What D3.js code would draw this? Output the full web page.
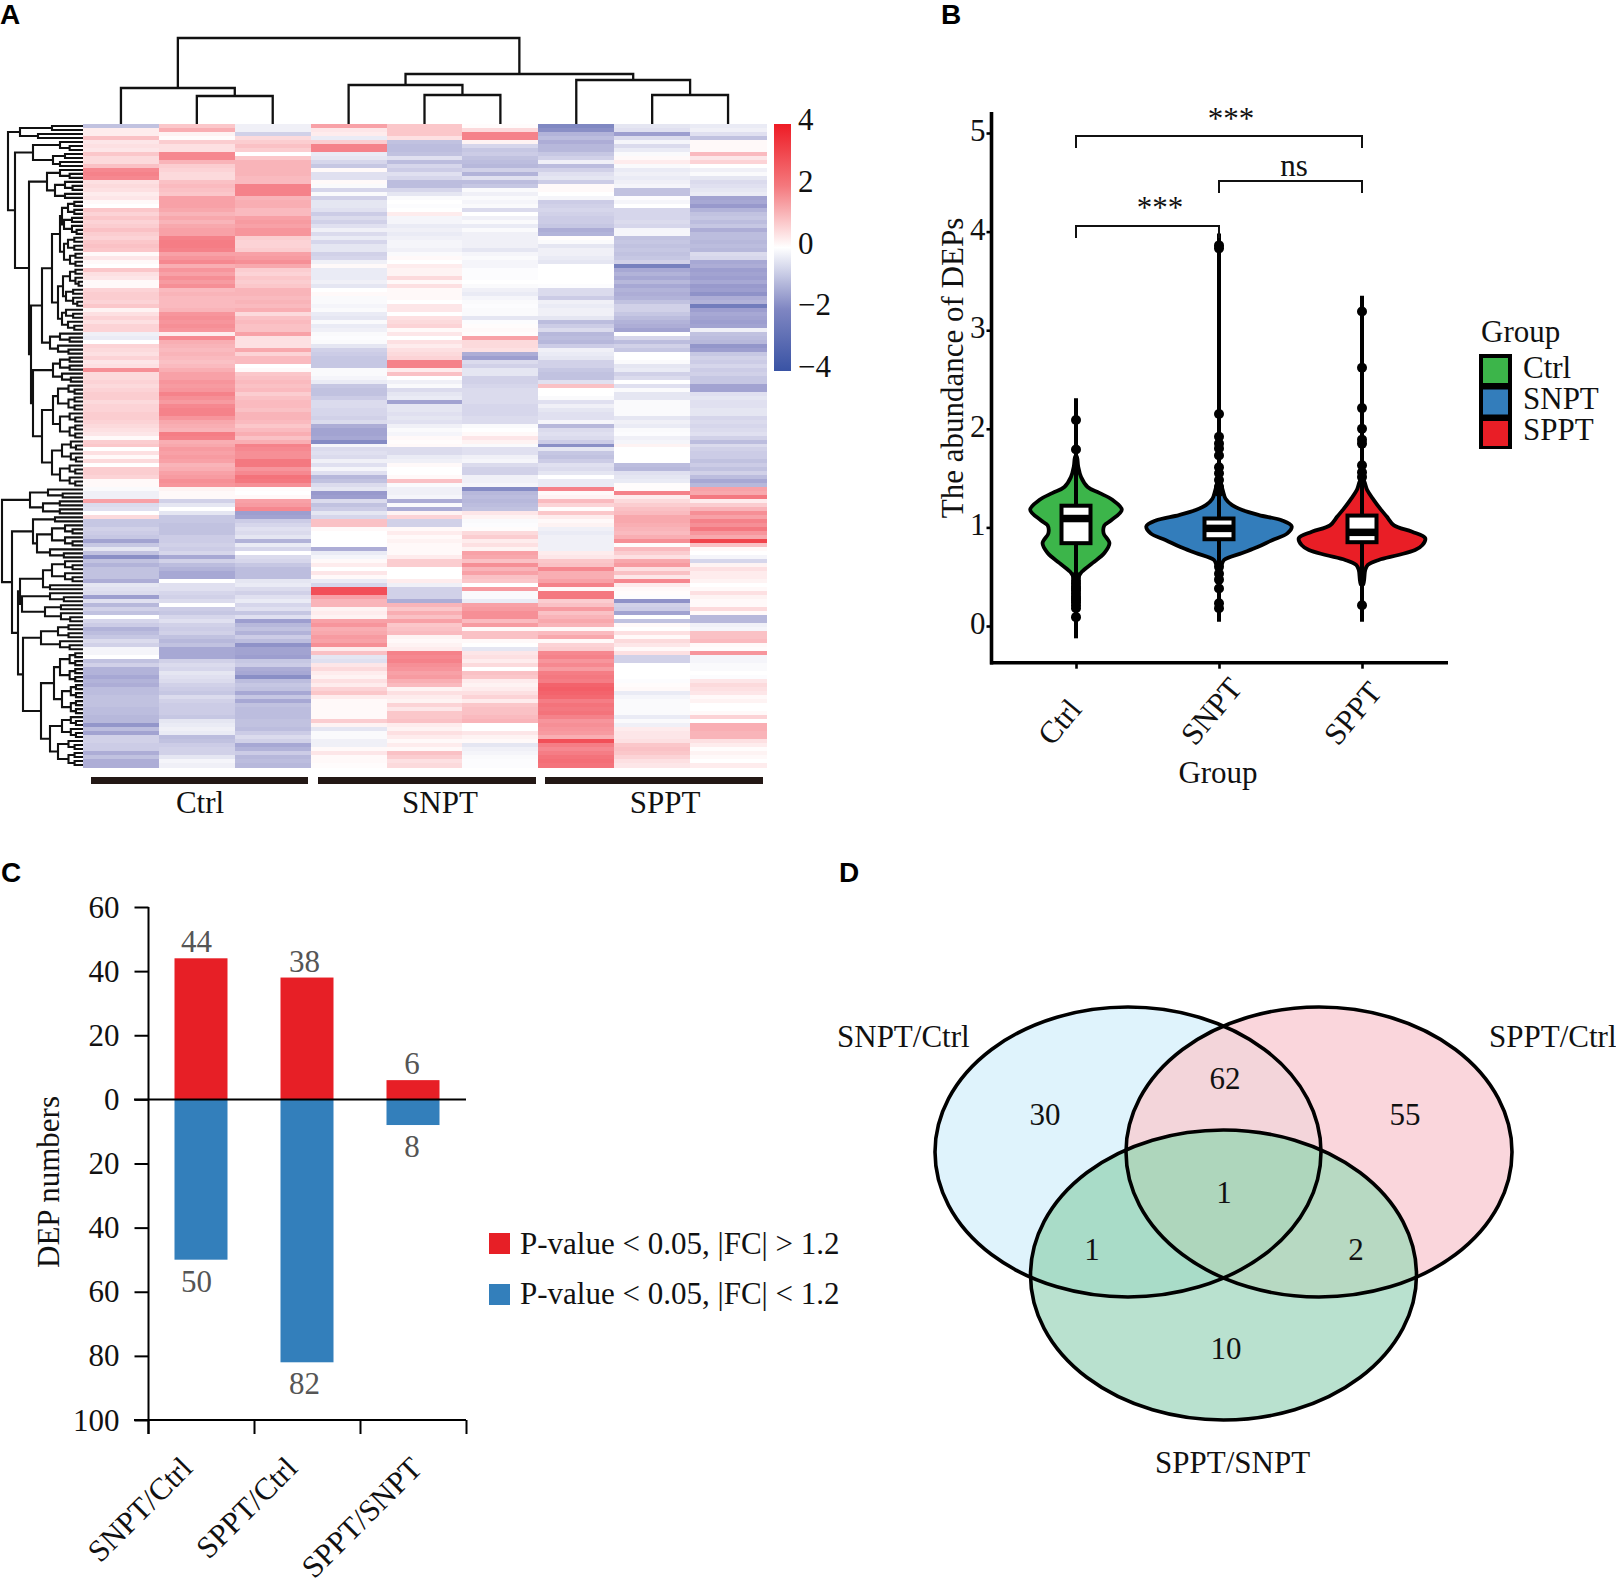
<!DOCTYPE html>
<html><head><meta charset="utf-8">
<script src="https://cdnjs.cloudflare.com/ajax/libs/d3/7.8.5/d3.min.js"></script>
<style>html,body{margin:0;padding:0;background:#fff}svg{display:block}text{font-family:"Liberation Serif",serif;fill:#111}</style>
</head><body><svg id="c" width="1616" height="1584"></svg>
<script>
// ---------- Panel A data: one array per sample, one value per protein row ----------
const sampleGroups = ["Ctrl","SNPT","SPPT"];
const heatCtrl1 = [-1.2,.3,.3,1,.4,.5,.4,.9,.6,.6,1,1.9,2,1.9,.5,.6,.5,.3,.4,.1,0,.9,.7,.9,.7,.8,1,.8,.7,.9,1,.9,.1,.4,.1,0,.9,.5,.4,.1,.1,.7,.8,.8,.7,.9,.2,.5,.7,.5,.7,.7,-.3,-.4,0,.7,.6,.5,.7,.4,.5,1.8,.6,.6,.7,.6,.7,.8,.8,.6,.7,.7,.8,.8,.7,.6,.5,.4,.1,
.8,.9,0,.5,.1,.6,0,.8,.8,.7,.1,.1,-.1,-.3,-.3,1.5,-.7,-.6,0,.6,-1.1,-1.1,-.9,-1,-1.1,-1.8,-1.1,-.5,-1.2,-2.3,-1.2,-1.5,-1.2,-1.2,-1.2,-1.6,-.5,-.6,-.7,-1.9,-.6,-1.4,-.9,-1.2,0,-.8,-1,-1.5,-1.3,-1.1,-.7,-.9,-.2,-.2,0,-1.2,-.9,-1.5,-1.5,-1.7,-1.5,-1.6,-1.3,-1.3,-1.2,-1.2,-1.2,-1.3,-1.3,-1.4,-1.4,-2.1,-1.3,-1.8,-.9,-.9,-1,-1,-1.6,-1.2,-1.6,-1.6];
const heatCtrl2 = [.9,1.3,.2,.05,.8,.5,.5,1.9,1.9,1.2,.8,.7,.6,.6,1,1.1,1,.9,1.5,1.5,1.5,1.4,1.2,1.4,1.2,1.4,1.5,1.5,2,2.1,2.1,2,1.5,1.7,1.9,1.3,1.7,1.5,1.8,1.6,1.8,1.1,1.2,1.1,1.1,1.1,1.2,1.7,1.8,1.7,1.8,1.7,.3,1.9,1.3,1.2,1.1,1.2,1.1,1,1.1,1.3,1.5,1.5,1.7,1.6,1.7,2,1.8,1.6,1.9,2,2,1.7,1.4,1.3,1.2,2.1,2,
1.3,1.4,1.6,1.5,1.6,1.5,1.2,1.3,1.5,1.6,1.8,1.7,.2,.1,.1,-.9,-.5,0,-.5,-1.1,-1.1,-1.2,-1.2,-1.2,-1,-1,-.9,-1,-.8,-1.7,-.9,-1.3,-1.5,-1.7,-1.7,0,-.6,-.6,-.8,-.9,-.7,0,-1,-1.1,-.8,-.6,-.9,-1,-.9,-1.2,-1.4,-1.2,-1.7,-1.7,-1.7,-.9,-.7,-.8,-.5,-.6,-.7,-.9,-1,-1.1,-.7,-.9,-1,-1,-1,-1.1,-.5,-.4,-.3,-.4,-1.3,-1.2,-1,-.9,-.9,-.5,-.2,-.3];
const heatCtrl3 = [-.3,-.3,-.9,.6,.8,1,.8,0,.9,1.2,1.2,1.2,1.2,1.1,1.1,2,2,2,1.2,1.3,1.3,1.1,1.1,1.5,1.6,1.5,1.7,1.7,.8,.7,.7,.8,1.5,1.6,1.8,1.4,.8,.7,.9,.8,.9,1.2,1.2,1.1,1.2,1.1,1.3,.6,1,1.1,1,1,1.5,.5,.5,.5,1.4,.7,1.1,1.1,0,.1,.9,1,1.1,1,1.1,.8,1,1.1,1.1,1,1.2,1.2,1.1,.9,1.1,1.3,1,
1.3,2,1.9,1.8,1.8,2.2,2.2,1.7,1.9,2.3,2.2,1.8,.05,0,.1,1.5,1.6,1.9,-1.9,-1.8,-1,-.8,-.6,-.7,-.5,-1.5,-.4,-.8,0,-.7,-.8,-1.1,-1.3,-1.3,-1.3,-.5,-.4,-.7,-.9,-.6,-.4,-.8,-.6,-1.1,-.6,-1.9,-1.4,-1.2,-1.5,-1,-1.3,-2.2,-1.8,-1.8,-1.9,-1.1,-1,-1.6,-1.7,-2.3,-1.3,-1.1,-1.2,-1.7,-1.1,-1.7,-1.2,-1.3,-1.3,-1.3,-1.2,-1.2,-1.3,-1,-.7,-.9,-1.7,-1.5,-1,-1.4,-1.3,-1.4];
const heatSnpt1 = [1.5,.4,.3,-.4,.8,2,2,-.4,-.5,-.8,-1.1,.1,-.6,-.6,.1,-.1,-.8,-.1,-.9,-.5,-.5,-.6,-1,-.7,-.9,-.6,-.3,-.7,-.4,-.8,-.5,-.5,-.9,-.8,-.3,.1,-.4,-.4,-.4,-.3,-.5,0,.1,-.1,-.1,-.2,-.1,-.4,-.5,-.1,-.4,-.3,-.1,-.05,-.1,-.5,-.9,-1,-1.1,-1.1,-1.1,-.1,-.1,-.2,-.4,-1.1,-1.2,-1.2,-1,-.7,-.7,-.8,-.8,-.9,-.7,-1.6,-1.8,-1.8,-1.7,
-2.4,-.2,-.7,-.6,-.7,-.3,-.6,-.2,-.6,-1.4,-1.2,-.7,-.5,-2,-1.9,-.7,-1.2,-1,-.5,-.8,1,1,.1,0,0,0,0,-1.6,-.4,-.2,.1,.3,0,.4,.1,-.4,-.8,3,3,1.5,1.2,1.2,.2,.3,.2,1.5,1.7,1.3,1.4,1.6,1.5,1.8,.3,1,-.5,-.6,.4,.6,.3,.2,.5,.3,.7,.9,.3,.1,.1,.1,.1,.1,.8,.2,-.5,-.1,-.1,-.3,-.3,.1,.4,.1,.1,.05];
const heatSnpt2 = [.9,.9,.9,.5,-1.2,-1.3,-1.3,-1.2,-.6,-1.3,-.8,-1,-.6,-.8,-1.3,-1.3,-.8,-.5,-.1,0,-.05,0,.3,-.2,-.2,-.4,-.3,-.4,-.3,-.2,-.2,-.3,-.1,.1,0,.3,.2,.2,.6,.1,.5,.1,.1,.1,0,.4,.4,0,.5,.6,.7,.1,.4,0,.5,.3,.5,.6,.7,2,2,.3,1,0,-.3,-.1,-.7,-.5,-.4,-1.8,-.5,-.5,-.6,-.5,-.6,-.3,-.1,-.2,.1,
.05,.1,-.7,-.7,-.4,-.3,.1,0,0,.1,1,-.1,-.3,-.3,-.2,-1.6,-.1,-1.6,.2,.7,-.9,-.9,.1,.3,.1,.2,.1,.1,.1,.3,.8,.8,0,0,0,.3,-.3,-.9,-.9,-.9,-1.6,1.2,.9,1.3,1,1.5,.9,1,1.1,.2,.1,.2,.3,2,1.9,2,1.8,1.7,1.5,1.6,1.3,1.1,.2,.5,.3,.2,.7,.4,.9,.9,1,.3,.2,.5,.3,.1,.3,.1,1,.8,.5,.6];
const heatSnpt3 = [.05,.6,2,2,.2,-.8,-1.1,-1,-1.2,-1.3,-1.4,-.9,-1.5,-.6,-1.3,-1.1,-.1,-.3,-.1,-.2,-.1,-.7,0,-.3,-.1,-.4,-.1,-.3,-.3,-.3,-.3,-.5,-.2,-.1,-.2,-.2,-.05,-.05,-.05,0,-.1,-.3,-.4,-.2,-.1,-.05,-.1,-.1,-.5,-.05,.05,.1,.05,1.5,.6,.6,.5,-1.6,-1.9,-.7,-.9,-.5,-.5,-.9,-.9,-.8,-.7,-.7,-.7,-.7,-.8,-.8,-.8,-.7,-.7,-.1,0,.1,.4,
.2,-.1,-.6,-.6,-.3,-.2,-.7,-.9,-.9,-.3,-.3,-.2,-2.4,-1.4,-1.3,-1.4,-1.3,-1.2,.4,.2,-.1,-.05,.05,.6,.8,.3,.5,.2,1.5,1.4,1,1.8,1.2,1.5,1,.9,0,1.6,-.1,-.1,-.4,1.5,1.6,1.8,1.8,1.1,1.6,.1,1,1,.1,0,-.5,.4,.5,.3,.6,0,1,.9,.3,.2,.3,.5,.7,.3,.9,1,1,1.1,1.2,0,0,.4,.2,.1,-.5,-.3,-.2,-.1,-.05,-.05];
const heatSppt1 = [-2.5,-2.3,-1.5,-1.3,-1.6,-1.4,-1.4,-1.1,-.9,-.3,-1.3,-.9,-.6,-.5,-1,.1,.1,0,-.2,-1,-.9,-.8,-.9,-1,-1,-1.1,-1.6,-1.5,.05,-.1,-.5,-.3,-.3,-.4,-.5,0,0,0,0,0,-.05,-.7,-.7,-1,-.3,-.4,-.3,-.3,-.5,-1.3,-1,-.7,-1.4,-1.3,-1.4,-1,-.3,-.4,-.5,-.9,-.9,-1.1,-1.2,-1.2,-.6,1,0,0,-.1,-.6,-.3,-.5,-.6,-.6,-.2,-1.4,-.7,-.6,-.7,
-1,-2.3,-.5,-1.1,-1.2,-1,-.6,-.7,-.5,0,-.4,-.4,2,.1,.2,1.1,.7,.05,.9,.3,.1,.2,-.3,-.4,-.3,-.3,-.3,-.3,.3,.4,.9,1,1.9,1.3,1.3,1.5,2,.1,2.2,2.2,.8,1,1.6,1,1.2,1.4,1.2,.1,1.1,1.4,.1,.7,.8,1.9,2,1.7,1.9,1.6,2.1,2.2,2.1,2.6,2.7,2.6,2.5,2.1,2.3,2.2,2.3,2,1.7,1.8,1.7,1.6,1.3,3,2.1,1.9,2.1,2.3,2.4,2.3];
const heatSppt2 = [-.5,-.6,-1.9,-.7,-.2,-.7,-.4,-.1,.1,.3,-.1,-.4,-.3,-.4,-.3,-.2,-1.2,-1.2,-.05,-.2,0,-.8,-.8,-.8,-.7,-.8,-.2,-.2,-1.2,-1.1,-1.2,-1.1,-1.2,-1.1,-.9,-2.7,-1.7,-1.5,-1.7,-1.4,-1.7,-1.5,-1.6,-1.5,-1.2,-.9,-.9,-1.1,-1.3,-1.5,-1.6,-1.8,0,-.8,-1.3,-.9,-1.1,0,0,-.1,-.5,-.4,-.9,-.7,0,-.6,-.1,-.5,-.5,-.1,-.1,-.1,-.1,-.5,-.3,-.4,-.1,-.05,-.3,
-.2,.2,0,0,0,0,-1.3,-1.4,-.6,-.5,-.4,.05,.05,2,.3,.6,.8,1,1.1,1.4,1.4,1.3,1.2,1.1,1.3,1.8,.05,1.1,.8,.5,1.4,1.6,.5,1,.4,1.9,.3,.1,.05,-.05,-2.2,-.9,-1,-1.8,0,-1.2,.1,0,.5,.1,.6,.4,.1,.5,-.9,-.9,0,0,0,0,-.05,.05,.1,-.4,-.2,-.1,-.1,-.1,-.1,-.4,-.1,-.3,.3,.4,.4,.5,.9,1,.9,.7,.5,.4];
const heatSppt3 = [-.4,-.3,-.6,-1.2,.1,.1,.1,1.1,.4,.7,0,-.3,-.1,-.5,-.7,-.6,-.5,-.4,-1.8,-1.7,-2,-1.5,-1.2,-1.1,-1.3,-1.1,-1.6,-1.3,-1.3,-1.4,-1.3,-1.4,-.7,-.8,-1.7,-1.6,-1.9,-1.8,-1.9,-1.7,-2,-1.9,-2.2,-1.6,-1.5,-2.8,-1.9,-1.7,-1.8,-1.9,-1.8,-.3,-1.2,-1.3,-1.4,-2.1,-1.9,-1.1,-.9,-1,-.8,-1,-.9,-1.1,-1.1,-1.8,-1.8,-.6,-.5,-.6,-.6,-.5,-.5,-.8,-.7,-.8,-.7,-.6,-.9,
-1.3,-.7,-.9,-1,-1,-1.2,-1,-1.2,-.9,-1.3,-1.7,-1.4,1.5,1.4,2.2,.3,.8,1.2,1.8,1.5,2,1.8,2.2,1.7,1.4,3.2,1,.1,0,-.2,-.8,.2,.5,.3,.3,.2,0,.1,.5,.2,.1,.1,.6,.1,-1.4,-1.4,-.3,-.2,1,1,1.1,.1,.05,1.7,-.2,-.2,-.1,-.1,0,-.05,.4,.6,.5,.4,.1,.2,0,0,.1,.7,0,1.3,1.3,1.2,1.2,.5,.3,.05,.2,.1,0,.3];
const heatColumns = [heatCtrl1,heatCtrl2,heatCtrl3,heatSnpt1,heatSnpt2,heatSnpt3,heatSppt1,heatSppt2,heatSppt3];
const colorTicks = [4,2,0,-2,-4];
// column dendrogram: [merge height, left, right]; leaves are column numbers
const colTree = [38,[88,0,[96,1,2]],[74,[85,3,[95,4,5]],[80,6,[95,7,8]]]];
// row dendrograms: [node depth, upper, lower]; [depth, n] is a tuft of n rows
const rowTreeUp = [8,[20,[52,2],[38,2]],[15,[33,[60,3],[53,[65,2],[60,2]]],[29,[47,[60,3],[55,[65,3],[65,2]]],[31,[42,[52,[60,[62,[68,4],[64,5]],[64,[68,4],[70,4]]],[58,[63,[70,5],[66,5]],[62,[66,3],[68,3]]]],[50,[60,3],[58,3]]],[33,[53,[60,4],[62,3]],[42,[53,[58,7],[60,7]],[52,[62,6],[60,6]]]]]]]];
const rowTreeDown = [2,[30,[48,3],[43,4]],[12,[33,[55,2],[37,[52,6],[50,3]]],[18,[20,[43,[52,6],[50,2]],[22,[50,3],[45,5]]],[23,[41,[58,4],[60,3]],[41,[54,[60,8],[62,8]],[50,[62,6],[58,7]]]]]]];
// ---------- Panel B data ----------
const violinGroups = ["Ctrl","SNPT","SPPT"];
const violinColors = ["#3cb54a","#337dbb","#e91e26"];
const ctrlLevels = [.48,.55,.64,.74,.84,.94,1.02,1.07,1.18,1.28,1.35,1.41,1.51,1.62,1.72];
const ctrlDensity = [.01,.08,.23,.39,.46,.38,.39,.48,.63,.5,.32,.16,.07,.03,.01];
const snptLevels = [.6,.67,.74,.8,.87,.94,1.01,1.07,1.125,1.176,1.226,1.29,1.38,1.48];
const snptDensity = [.02,.07,.32,.53,.73,.94,1,.87,.55,.32,.18,.09,.05,.01];
const spptLevels = [.42,.57,.62,.67,.72,.77,.82,.89,.956,1.02,1.11,1.19,1.28,1.38,1.48];
const spptDensity = [.015,.045,.08,.23,.5,.73,.83,.87,.69,.44,.34,.25,.16,.07,.02];
const whiskerLow = [-.125,.044,.044], whiskerHigh = [2.31,3.98,3.35];
const boxLow = [.84,.88,.85], boxMedian = [1.09,.99,.95], boxHigh = [1.22,1.09,1.12];
const ctrlOutliers = [2.09,1.79,.5,.46,.43,.4,.38,.36,.33,.3,.28,.26,.24,.21,.18,.09];
const snptOutliers = [3.86,3.83,2.15,1.92,1.85,1.8,1.73,1.61,1.55,1.48,1.41,1.36,.6,.53,.47,.38,.23,.18];
const spptOutliers = [3.19,2.62,2.21,2,1.89,1.85,1.63,1.56,1.51,.21];
const violinTicks = [0,1,2,3,4,5];
// ---------- Panel C data ----------
const depPairs = ["SNPT/Ctrl","SPPT/Ctrl","SPPT/SNPT"];
const depUp = [44,38,6], depDown = [50,82,8];
const depTicks = [60,40,20,0,-20,-40,-60,-80,-100];
const depLegend = ["P-value < 0.05, |FC| > 1.2","P-value < 0.05, |FC| < 1.2"];
// ---------- Panel D data ----------
const vennNames = ["SNPT/Ctrl","SPPT/Ctrl","SPPT/SNPT"];
const vennCounts = ["30","62","55","1","1","2","10"];

const FS = 31;
const svg = d3.select("#c");
const ink = "#000";
function T(x,y,s,o={}){const t=svg.append("text").attr("x",x).attr("y",y).attr("font-size",o.size||FS).text(s);
  if(o.anchor)t.attr("text-anchor",o.anchor);if(o.fill)t.style("fill",o.fill);if(o.fam)t.style("font-family",o.fam);if(o.weight)t.attr("font-weight",o.weight);
  if(o.rot!==undefined)t.attr("transform",`rotate(${o.rot} ${x} ${y})`);return t;}
// panel letters
[["A",0,24],["B",941,24],["C",1,882],["D",839,882]].forEach(d=>T(d[1],d[2],d[0],{size:28,fam:'"Liberation Sans",sans-serif',weight:700,fill:"#000"}));

// ===== Panel A =====
const heatX = d3.scaleBand().domain(d3.range(9)).range([83,766]);
const heatY = d3.scaleBand().domain(d3.range(161)).range([124,767]);
const heatColor = d3.scaleLinear().domain([-4,-2,0,2,4]).range(["#3953a4","#9899cc","#ffffff","#f5828a","#ee1c25"]);
const barColor = d3.scaleLinear().domain([-4,-2,0,2,4]).range(["#3953a4","#7f86c2","#ffffff","#f4787d","#ee1c25"]);
const gHeat = svg.append("g").attr("shape-rendering","crispEdges");
heatColumns.forEach((col,c)=>{
  gHeat.selectAll(null).data(col).join("rect")
    .attr("x",heatX(c)).attr("width",heatX.bandwidth()+.5)
    .attr("y",(d,i)=>heatY(i)).attr("height",heatY.bandwidth()+.5)
    .attr("fill",d=>heatColor(d));
});
// column dendrogram
function colLayout(n){ if(typeof n==="number") return {x:heatX(n)+heatX.bandwidth()/2,y:124};
  const a=colLayout(n[1]),b=colLayout(n[2]);return {x:(a.x+b.x)/2,y:n[0],a,b};}
function colPath(n,p){ if(!n.a)return; p.moveTo(n.a.x,n.a.y);p.lineTo(n.a.x,n.y);p.lineTo(n.b.x,n.y);p.lineTo(n.b.x,n.b.y);colPath(n.a,p);colPath(n.b,p);}
const cp=d3.path();colPath(colLayout(colTree),cp);
svg.append("path").attr("d",cp.toString()).attr("fill","none").attr("stroke","#111").attr("stroke-width",2.3);
// row dendrograms
const leafEdge = 83;
function tuft(x,n){ // [depth, n] -> nested pair of smaller tufts
  const h=Math.floor(n/2), nx=x+(leafEdge-x)*.42;
  return [x, h===1?1:[nx,h], n-h===1?1:[nx,n-h]];
}
function rowLayout(n,row){
  if(n===1) return {x:leafEdge,y:heatY(row.i++)+heatY.bandwidth()/2};
  if(n.length===2) n=tuft(n[0],n[1]);
  const a=rowLayout(n[1],row),b=rowLayout(n[2],row);
  return {x:n[0],y:(a.y+b.y)/2,a,b};
}
function rowPath(n,p){ if(!n.a)return; p.moveTo(n.a.x,n.a.y);p.lineTo(n.x,n.a.y);p.lineTo(n.x,n.b.y);p.lineTo(n.b.x,n.b.y);rowPath(n.a,p);rowPath(n.b,p);}
const rowCursor={i:0}, rp=d3.path();
rowPath(rowLayout(rowTreeUp,rowCursor),rp);
rowPath(rowLayout(rowTreeDown,rowCursor),rp);
svg.append("path").attr("d",rp.toString()).attr("fill","none").attr("stroke","#111").attr("stroke-width",2.1);
// colour bar
const barY=d3.scaleLinear().domain([4,-4]).range([124,371]);
const defs=svg.append("defs");
const lg=defs.append("linearGradient").attr("id","cb").attr("x1",0).attr("x2",0).attr("y1",0).attr("y2",1);
d3.range(0,1.001,.05).forEach(t=>lg.append("stop").attr("offset",t).attr("stop-color",barColor(4-8*t)));
svg.append("rect").attr("x",774).attr("y",124).attr("width",17).attr("height",247).attr("fill","url(#cb)");
colorTicks.forEach(v=>T(798,barY(v)+6,String(v).replace("-","\u2212")));
// group bars under heatmap
const groupBarX=[[91,308],[318,536],[545,763]], groupLabelX=[200,440,665];
sampleGroups.forEach((g,i)=>{
  svg.append("rect").attr("x",groupBarX[i][0]).attr("y",777).attr("width",groupBarX[i][1]-groupBarX[i][0]).attr("height",7).attr("fill","#231815");
  T(groupLabelX[i],813,g,{anchor:"middle"});
});

// ===== Panel B =====
const vY=d3.scaleLinear().domain([0,5]).range([626,133]);
const vX=d3.scalePoint().domain(violinGroups).range([1076,1362]).padding(0);
const vW=d3.scaleLinear().domain([0,1]).range([0,72.7]);
const gB=svg.append("g");
const levels=[ctrlLevels,snptLevels,spptLevels],dens=[ctrlDensity,snptDensity,spptDensity],outs=[ctrlOutliers,snptOutliers,spptOutliers];
violinGroups.forEach((g,i)=>{
  const cx=vX(g);
  const lv=levels[i],dn=dens[i];
  const L=lv.map((v,k)=>[cx-vW(dn[k]),vY(v)]), R=lv.map((v,k)=>[cx+vW(dn[k]),vY(v)]).reverse();
  const line=d3.line().curve(d3.curveCatmullRomClosed.alpha(.5));
  gB.append("path").attr("d",line(L.concat(R))).attr("fill",violinColors[i]).attr("stroke",ink).attr("stroke-width",3.8).attr("stroke-linejoin","round");
  gB.append("line").attr("x1",cx).attr("x2",cx).attr("y1",vY(whiskerLow[i])).attr("y2",vY(whiskerHigh[i])).attr("stroke",ink).attr("stroke-width",4);
  gB.selectAll(null).data(outs[i]).join("circle").attr("cx",cx).attr("cy",d=>vY(d)).attr("r",5).attr("fill",ink);
  gB.append("rect").attr("x",cx-14.5).attr("width",29).attr("y",vY(boxHigh[i])).attr("height",vY(boxLow[i])-vY(boxHigh[i])).attr("fill","#fff").attr("stroke",ink).attr("stroke-width",4);
  gB.append("line").attr("x1",cx-14.5).attr("x2",cx+14.5).attr("y1",vY(boxMedian[i])).attr("y2",vY(boxMedian[i])).attr("stroke",ink).attr("stroke-width",7.5);
});
const axL=d3.axisLeft(vY).tickValues(violinTicks).tickSize(5).tickPadding(1).tickFormat(d3.format("d"));
const gL=svg.append("g").attr("transform","translate(991.5,0)").call(axL);
gL.select(".domain").attr("d","M0,112V664.5").attr("stroke",ink).attr("stroke-width",3.6);
gL.selectAll(".tick line").attr("stroke",ink).attr("stroke-width",2.6);
gL.selectAll(".tick text").attr("font-size",FS).attr("dy",0).attr("y",7.5).style("fill","#111");
const axB=d3.axisBottom(vX).tickSize(6).tickFormat("");
const gX=svg.append("g").attr("transform","translate(0,662.7)").call(axB);
gX.select(".domain").attr("d","M990,0H1448").attr("stroke",ink).attr("stroke-width",3.6);
gX.selectAll(".tick line").attr("stroke",ink).attr("stroke-width",2.6);
violinGroups.forEach(g=>T(vX(g)-24,747,g,{rot:-50}));
T(1218,783,"Group",{anchor:"middle"});
T(963,368,"The abundance of DEPs",{anchor:"middle",rot:-90});
// significance brackets
function bracket(a,b,y,dropA,dropB){svg.append("path").attr("d",`M${a},${y+dropA}V${y}H${b}V${y+dropB}`).attr("fill","none").attr("stroke","#111").attr("stroke-width",2);}
bracket(vX("Ctrl"),vX("SPPT"),136,12,12);
bracket(vX("SNPT"),vX("SPPT"),181,12,12);
bracket(vX("Ctrl"),vX("SNPT"),226,12,12);
T(1231,129,"***",{anchor:"middle"});
T(1160,218,"***",{anchor:"middle"});
T(1294,176,"ns",{anchor:"middle"});
// legend
T(1481,342,"Group");
svg.append("rect").attr("x",1479).attr("y",354).attr("width",33).attr("height",95).attr("fill",ink);
violinGroups.forEach((g,i)=>{
  svg.append("rect").attr("x",1483).attr("y",358+31.5*i).attr("width",25).attr("height",25).attr("fill",violinColors[i]);
  T(1523,378+31*i,g);
});

// ===== Panel C =====
const cY=d3.scaleLinear().domain([-100,60]).range([1420,907]);
const cX=d3.scaleBand().domain(depPairs).range([148,466]).paddingInner(.5).paddingOuter(.25);
const cEdge=d3.scaleLinear().domain([0,3]).range([148,466]);
const barRed="#e71f26",barBlue="#337fbb";
const labelShift=[-4.5,-2.5,-1];
depPairs.forEach((p,i)=>{
  svg.append("rect").attr("x",cX(p)).attr("width",cX.bandwidth()).attr("y",cY(depUp[i])).attr("height",cY(0)-cY(depUp[i])).attr("fill",barRed);
  svg.append("rect").attr("x",cX(p)).attr("width",cX.bandwidth()).attr("y",cY(0)).attr("height",cY(-depDown[i])-cY(0)).attr("fill",barBlue);
  const lx=cX(p)+cX.bandwidth()/2+labelShift[i];
  T(lx,cY(depUp[i])-6,String(depUp[i]),{anchor:"middle",fill:"#555"});
  T(lx,cY(-depDown[i])+32,String(depDown[i]),{anchor:"middle",fill:"#555"});
});
const axC=d3.axisLeft(cY).tickValues(depTicks).tickSize(14).tickPadding(15).tickFormat(d=>Math.abs(d));
const gC=svg.append("g").attr("transform","translate(148.5,0)").call(axC);
gC.select(".domain").attr("d","M0,907V1434").attr("stroke",ink).attr("stroke-width",2);
gC.selectAll(".tick line").attr("stroke",ink).attr("stroke-width",2);
gC.selectAll(".tick text").attr("font-size",FS).attr("dy",0).attr("y",10).style("fill","#111");
const axCx=d3.axisBottom(cEdge).tickValues([0,1,2,3]).tickSize(14).tickFormat("");
const gCx=svg.append("g").attr("transform","translate(0,1420)").call(axCx);
gCx.select(".domain").attr("d","M134,0H466").attr("stroke",ink).attr("stroke-width",2);
gCx.selectAll(".tick line").attr("stroke",ink).attr("stroke-width",2);
svg.append("line").attr("x1",134).attr("x2",466).attr("y1",cY(0)).attr("y2",cY(0)).attr("stroke",ink).attr("stroke-width",2);
T(59,1182,"DEP numbers",{anchor:"middle",rot:-90});
[[194,1470],[299,1470],[424,1470]].forEach((q,i)=>T(q[0],q[1],depPairs[i],{anchor:"end",rot:-45}));
depLegend.forEach((s,i)=>{
  svg.append("rect").attr("x",489).attr("y",1233+51*i).attr("width",21).attr("height",21).attr("fill",i?barBlue:barRed);
  T(520,1254+50*i,s);
});

// ===== Panel D =====
const venn=[{cx:1128,cy:1152},{cx:1319,cy:1152},{cx:1223.5,cy:1275}];
const rx=193,ry=145;
venn.forEach((v,i)=>defs.append("clipPath").attr("id","v"+i).append("ellipse").attr("cx",v.cx).attr("cy",v.cy).attr("rx",rx).attr("ry",ry));
function ell(i,fill,parent){return (parent||svg).append("ellipse").attr("cx",venn[i].cx).attr("cy",venn[i].cy).attr("rx",rx).attr("ry",ry).attr("fill",fill);}
ell(0,"#dff3fc");ell(1,"#fad6dc");
ell(1,"#f3d5da",svg.append("g").attr("clip-path","url(#v0)"));
ell(2,"#b9e1cf");
ell(2,"#a9dcc8",svg.append("g").attr("clip-path","url(#v0)"));
ell(2,"#b7d9c2",svg.append("g").attr("clip-path","url(#v1)"));
ell(2,"#aed6bc",svg.append("g").attr("clip-path","url(#v0)").append("g").attr("clip-path","url(#v1)"));
venn.forEach((v,i)=>ell(i,"none").attr("stroke",ink).attr("stroke-width",3.6));
[[1045,1125],[1225,1089],[1405,1125],[1224,1203],[1092,1260],[1356,1260],[1226,1359]].forEach((q,i)=>T(q[0],q[1],vennCounts[i],{anchor:"middle"}));
T(837,1047,vennNames[0]);T(1489,1047,vennNames[1]);T(1155,1473,vennNames[2]);
</script></body></html>
